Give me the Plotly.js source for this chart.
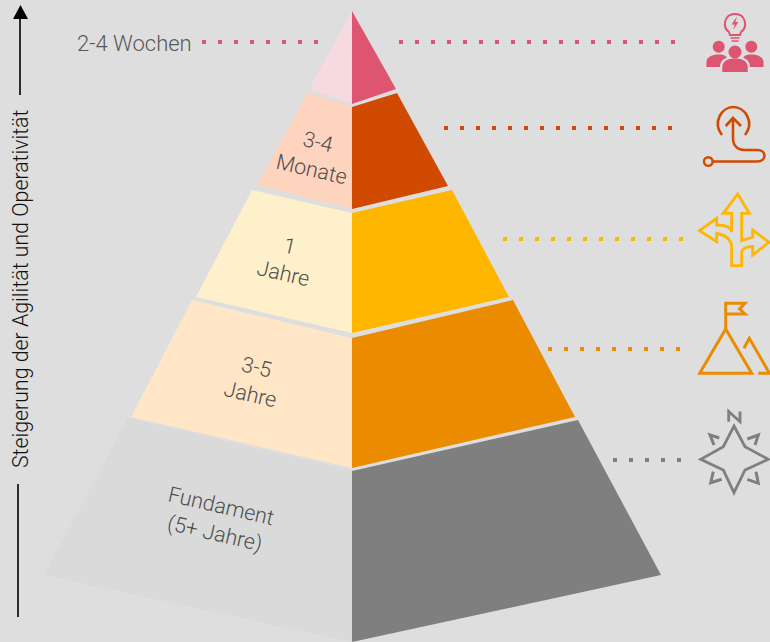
<!DOCTYPE html>
<html><head><meta charset="utf-8">
<script src="https://cdn.plot.ly/plotly-3.0.1.min.js"></script>
<style>html,body{margin:0;padding:0;background:#dedede;overflow:hidden}</style>
</head><body><div id="chart" style="width:770px;height:642px"></div>
<script>
const levelLabels = ["2-4 Wochen", "3-4<br>Monate", "1<br>Jahre", "3-5<br>Jahre", "Fundament<br>(5+ Jahre)"];
const lightColors = ["#f7d9e1", "#ffd4bf", "#fff0cc", "#fee6c7", "#dadada"];
const darkColors = ["#dd5570", "#d04a02", "#ffb600", "#eb8c00", "#7f7f7f"];
const leftFaceX = [[352,352,309],[352,352,257,308],[352,352,196,252],[352,352,131,192],[352,352,44,128]];
const leftFaceY = [[11,104,89],[107,209,185,93],[213,333,297,190],[338,468,417,300],[471,642,575,418]];
const rightFaceX = [[352,352,396],[352,352,448,397],[352,352,509,452],[352,352,575,513],[352,352,661,578]];
const rightFaceY = [[11,104,89],[107,209,186,93],[213,333,297,190],[338,468,417,300],[471,642,575,420]];
const guideStart = [[401,42],[446,128],[505,239],[550,349],[615,460]];
const guideEnd = [673,670,681,678,679];
const leftGuideX = [204,316];
const axisTitle = "Steigerung der Agilität und Operativität";
const BG = "#dedede", TXT = "#4e4e4e";

const traces = [];
levelLabels.forEach((_, i) => {
  traces.push({x:leftFaceX[i], y:leftFaceY[i], mode:"lines", fill:"toself", fillcolor:lightColors[i], line:{width:0}, hoverinfo:"skip"});
  traces.push({x:rightFaceX[i], y:rightFaceY[i], mode:"lines", fill:"toself", fillcolor:darkColors[i], line:{width:0}, hoverinfo:"skip"});
  traces.push({x:[guideStart[i][0]-2, guideEnd[i]+2], y:[guideStart[i][1], guideStart[i][1]], mode:"lines",
    line:{color:darkColors[i], width:4, dash:"4px,12px"}, hoverinfo:"skip"});
});
traces.push({x:[leftGuideX[0]-2, leftGuideX[1]+2], y:[42,42], mode:"lines", line:{color:darkColors[0], width:4, dash:"4px,12px"}, hoverinfo:"skip"});
traces.push({x:[20,20], y:[16,95], mode:"lines", line:{color:"#000", width:1.6}, hoverinfo:"skip"});
traces.push({x:[18,18], y:[484,617], mode:"lines", line:{color:"#000", width:1.6}, hoverinfo:"skip"});
traces.push({x:[20.5,13,28,20.5], y:[5,19,19,5], mode:"lines", fill:"toself", fillcolor:"#000", line:{width:0}, hoverinfo:"skip"});

const note = (text,x,y,angle,size,align,color) => ({text, x, y, xref:"x", yref:"y", showarrow:false, textangle:angle,
  xanchor:"center", yanchor:"middle", align:align||"center",
  font:{family:"Roboto, Liberation Sans, Arial, sans-serif", weight:300, size, color:color||TXT}});
const annotations = [
  note(levelLabels[0],134,43,0,22,"center","#585858"),
  note(levelLabels[1],315,155,13,21.5),
  note(levelLabels[2],286,259,13,21.5),
  note(levelLabels[3],253,380,13,21.5),
  note(levelLabels[4],218,520,13,21.5),
  note(axisTitle,20,289,-90,21.3,"center","#111")
];

const stroke = (path,color,w) => ({type:"path", path, xref:"x", yref:"y", line:{color,width:w||2.5}, fillcolor:"rgba(0,0,0,0)"});
const solid = (path,color) => ({type:"path", path, xref:"x", yref:"y", line:{width:0}, fillcolor:color});
const circ = (cx,cy,r,color,w,fill) => ({type:"circle", xref:"x", yref:"y", x0:cx-r, x1:cx+r, y0:cy-r, y1:cy+r,
  line:{color,width:w||0}, fillcolor:fill||"rgba(0,0,0,0)"});
const P = darkColors[0], R = darkColors[1], Y = darkColors[2], O = darkColors[3], G = darkColors[4];
const shapes = [
  stroke("M729,32 C722,27 724,14 735,14 C746,14 748,27 741,32 L740,35 L730,35 Z",P,2),
  stroke("M730.5,38 L739.5,38 M731.5,41 L738.5,41",P,1.6),
  solid("M737,16.5 L731.5,24.5 L734.7,24.5 L733,30 L738.5,22 L735.4,22 Z",P),
  circ(735,52,6.5,P,0,P), circ(718.7,46.7,6,P,0,P), circ(751.3,46.7,6,P,0,P),
  solid("M722.3,72 L722.3,67 C722.3,61 728,58.5 735,58.5 C742,58.5 747.7,61 747.7,67 L747.7,72 Z",P),
  solid("M706.5,67 L706.5,62 C706.5,57 712,54.5 718.7,54.5 C722,54.5 725,55 727,57.5 C723,59 720,62 720,67 Z",P),
  solid("M763.5,67 L763.5,62 C763.5,57 758,54.5 751.3,54.5 C748,54.5 745,55 743,57.5 C747,59 750,62 750,67 Z",P),
  stroke("M722,135 C712,122 722,107 733.3,107 C745,107 755,122 745,135",R,2.6),
  stroke("M725.7,126 L733,118 L741,126 M733,118 L733,138 C733,146 738,150 745,150 L757,150 C767,150 767,161.5 757,161.5 L713,161.5",R,2.6),
  circ(708.3,161.5,4.3,R,2.4),
  stroke("M737.7,194 L749.3,213.3 L741.7,213.3 L741.7,240.7 L752.7,237.3 L752.7,230 L769,242.3 L752.7,255 L752.7,246.5 C746,246.5 741.7,249 741.7,253 L741.7,265.7 L731.7,265.7 L731.7,248 C731.7,240 726,235 716.7,233.5 L716.7,241.7 L699.5,230.7 L716.7,218.3 L716.7,225 C724,225 731,227 731.7,232 L731.7,213.3 L723.3,213.3 Z",Y,2.8),
  stroke("M725.7,329 L725.7,303.3 L745,303.3 L739.5,309 L745,314 L725.7,314",O,3),
  stroke("M725.7,329 L699.7,373.3 L751.7,373.3 Z",O,3),
  stroke("M744,348.3 L749.3,338.3 L769.5,373.3 L758.3,373.3",O,3),
  stroke("M734,426 L745,446.7 L768.3,459.3 L745,470 L734,492.7 L723.3,470 L700.7,459.3 L723.3,446.7 Z",G,2.8),
  stroke("M728.7,421.7 L728.7,411.5 L740,421.7 L740,411.5",G,2.8),
  stroke("M719.3,438 L710,435 L714,445",G,3),
  stroke("M747.3,439 L758.3,435 L755,445",G,3),
  stroke("M721.7,479.3 L710.7,482.7 L713.3,471.7",G,3),
  stroke("M747.3,479.3 L758.3,483.3 L756,471.7",G,3)
];

Plotly.newPlot("chart", traces, {
  width:770, height:642, margin:{l:0,r:0,t:0,b:0}, showlegend:false,
  paper_bgcolor:BG, plot_bgcolor:BG,
  xaxis:{range:[0,770], visible:false, fixedrange:true},
  yaxis:{range:[642,0], visible:false, fixedrange:true},
  annotations, shapes
}, {displayModeBar:false, staticPlot:true});
</script></body></html>
